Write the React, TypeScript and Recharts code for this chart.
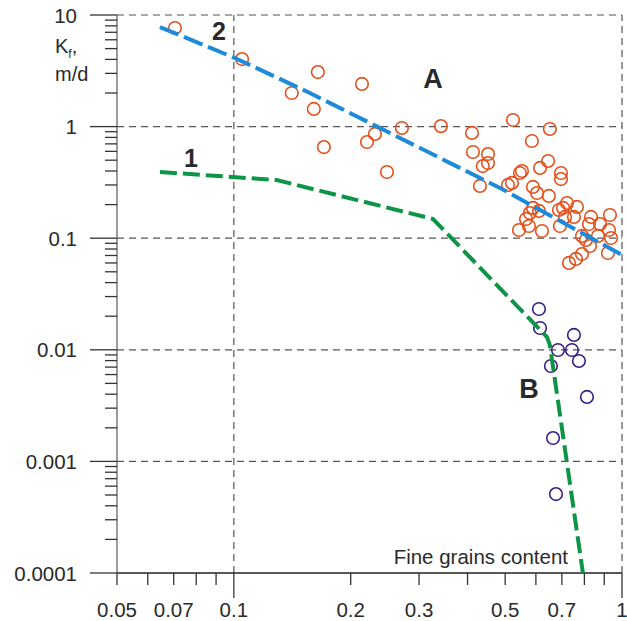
import React from 'react';
import { ScatterChart, Scatter, XAxis, YAxis, ReferenceLine } from 'recharts';

// Fine grains content (x) ticks
const xTicks = [0.05, 0.06, 0.07, 0.08, 0.09, 0.1, 0.2, 0.3, 0.4, 0.5, 0.6, 0.7, 0.8, 0.9, 1];
const xLabelled = [0.05, 0.07, 0.1, 0.2, 0.3, 0.5, 0.7, 1];
const xTickLabels = ['0.05', '0.07', '0.1', '0.2', '0.3', '0.5', '0.7', '1'];
const xMajor = [0.1, 1];

// Kf (y) ticks
const yTicks = [
  0.0001, 0.0002, 0.0003, 0.0004, 0.0005, 0.0006, 0.0007, 0.0008, 0.0009,
  0.001, 0.002, 0.003, 0.004, 0.005, 0.006, 0.007, 0.008, 0.009,
  0.01, 0.02, 0.03, 0.04, 0.05, 0.06, 0.07, 0.08, 0.09,
  0.1, 0.2, 0.3, 0.4, 0.5, 0.6, 0.7, 0.8, 0.9,
  1, 2, 3, 4, 5, 6, 7, 8, 9, 10,
];
const yMajor = [0.0001, 0.001, 0.01, 0.1, 1, 10];
const yTickLabels = ['0.0001', '0.001', '0.01', '0.1', '1', '10'];

// Group A samples (orange)
const groupA = [
  { f: 0.0705, k: 7.65 }, { f: 0.105, k: 4.03 }, { f: 0.1646, k: 3.08 }, { f: 0.2138, k: 2.41 },
  { f: 0.141, k: 2.0 }, { f: 0.1607, k: 1.44 }, { f: 0.1706, k: 0.656 }, { f: 0.2203, k: 0.728 },
  { f: 0.2309, k: 0.859 }, { f: 0.248, k: 0.392 }, { f: 0.271, k: 0.972 }, { f: 0.3415, k: 1.01 },
  { f: 0.4107, k: 0.877 }, { f: 0.413, k: 0.592 }, { f: 0.4516, k: 0.568 }, { f: 0.4516, k: 0.472 },
  { f: 0.438, k: 0.443 }, { f: 0.4305, k: 0.294 }, { f: 0.5237, k: 1.146 }, { f: 0.652, k: 0.952 },
  { f: 0.586, k: 0.743 }, { f: 0.645, k: 0.492 }, { f: 0.615, k: 0.426 }, { f: 0.6964, k: 0.384 },
  { f: 0.6964, k: 0.339 }, { f: 0.5524, k: 0.4 }, { f: 0.5458, k: 0.384 }, { f: 0.5206, k: 0.3126 },
  { f: 0.5084, k: 0.3 }, { f: 0.5897, k: 0.288 }, { f: 0.604, k: 0.254 }, { f: 0.648, k: 0.239 },
  { f: 0.5897, k: 0.1866 }, { f: 0.611, k: 0.1754 }, { f: 0.579, k: 0.168 }, { f: 0.566, k: 0.1486 },
  { f: 0.5758, k: 0.1286 }, { f: 0.5427, k: 0.1184 }, { f: 0.622, k: 0.116 }, { f: 0.688, k: 0.179 },
  { f: 0.705, k: 0.1866 }, { f: 0.7216, k: 0.2067 }, { f: 0.7656, k: 0.1905 }, { f: 0.713, k: 0.155 },
  { f: 0.752, k: 0.155 }, { f: 0.692, k: 0.1286 }, { f: 0.832, k: 0.155 }, { f: 0.822, k: 0.134 },
  { f: 0.8776, k: 0.134 }, { f: 0.931, k: 0.1614 }, { f: 0.926, k: 0.1184 }, { f: 0.7886, k: 0.1047 },
  { f: 0.8077, k: 0.0964 }, { f: 0.827, k: 0.0851 }, { f: 0.8672, k: 0.1047 }, { f: 0.937, k: 0.1004 },
  { f: 0.92, k: 0.0737 }, { f: 0.7886, k: 0.0722 }, { f: 0.761, k: 0.0652 }, { f: 0.7302, k: 0.06 },
];

// Group B samples (purple)
const groupB = [
  { f: 0.611, k: 0.0232 }, { f: 0.615, k: 0.01568 }, { f: 0.752, k: 0.01358 }, { f: 0.684, k: 0.00996 },
  { f: 0.743, k: 0.00996 }, { f: 0.7746, k: 0.00794 }, { f: 0.656, k: 0.00716 }, { f: 0.8124, k: 0.00378 },
  { f: 0.6643, k: 0.00162 }, { f: 0.676, k: 0.00051 },
];

// Curve 1 (green)
const curve1 = [
  { f: 0.0645, k: 0.392 }, { f: 0.129, k: 0.332 }, { f: 0.326, k: 0.1486 },
  { f: 0.641, k: 0.013 }, { f: 0.652, k: 0.011 }, { f: 0.793, k: 0.0001 },
];

// Curve 2 (blue)
const curve2 = [
  { f: 0.0645, k: 7.8 }, { f: 0.1006, k: 4.12 }, { f: 0.157, k: 2.0 },
  { f: 0.485, k: 0.282 }, { f: 1, k: 0.0707 },
];

const FONT = '"Liberation Sans", Arial, sans-serif';
const TXT = '#2a2a2a';
const ORANGE = '#e4501c';
const PURPLE = '#3a1f86';
const GREEN = '#0e9447';
const BLUE = '#1d8bd9';
const GRID = '#555';

const XTick = (props: any) => {
  const { x, y, payload } = props;
  const v = payload.value;
  const len = xMajor.includes(v) ? 25 : 12;
  const idx = xLabelled.indexOf(v);
  return (
    <g>
      <line x1={x} x2={x} y1={y} y2={y + len} stroke="#333" strokeWidth={1.3} />
      {idx >= 0 && (
        <text x={x} y={y + 44} textAnchor="middle" fontSize={20.5} fontFamily={FONT} fill={TXT}>
          {xTickLabels[idx]}
        </text>
      )}
    </g>
  );
};

const YTick = (props: any) => {
  const { x, y, payload } = props;
  const v = payload.value;
  const idx = yMajor.indexOf(v);
  const len = idx >= 0 ? 27 : 12;
  return (
    <g>
      <line x1={x - len} x2={x} y1={y} y2={y} stroke="#333" strokeWidth={1.3} />
      {idx >= 0 && (
        <text x={x - 40} y={y + 7.5} textAnchor="end" fontSize={20.5} fontFamily={FONT} fill={TXT}>
          {yTickLabels[idx]}
        </text>
      )}
    </g>
  );
};

const Ring = (color: string) => (props: any) => {
  const { cx, cy } = props;
  if (cx == null || cy == null) return <g />;
  return <circle cx={cx} cy={cy} r={6.3} fill="none" stroke={color} strokeWidth={1.6} />;
};

const NoShape = () => <g />;

export default function App() {
  return (
    <div style={{ position: 'absolute', left: 0, top: 0, width: 627, height: 621, background: '#fff' }}>
      <ScatterChart width={627} height={621} margin={{ top: 15, right: 5, bottom: 0, left: 0 }}>
        <XAxis
          type="number"
          dataKey="f"
          scale="log"
          domain={[0.05, 1]}
          ticks={xTicks}
          interval={0}
          allowDataOverflow
          height={48}
          tickSize={0}
          tickMargin={0}
          tickLine={false}
          tick={<XTick />}
          axisLine={{ stroke: '#222', strokeWidth: 1.3 }}
        />
        <YAxis
          type="number"
          dataKey="k"
          scale="log"
          domain={[0.0001, 10]}
          ticks={yTicks}
          interval={0}
          allowDataOverflow
          width={117}
          tickSize={0}
          tickMargin={0}
          tickLine={false}
          tick={<YTick />}
          axisLine={{ stroke: '#666', strokeWidth: 1.3 }}
        />
        {yMajor.slice(1).map((v) => (
          <ReferenceLine key={'h' + v} y={v} stroke={GRID} strokeWidth={1.2} strokeDasharray="7 5" />
        ))}
        {xMajor.map((v) => (
          <ReferenceLine key={'v' + v} x={v} stroke={GRID} strokeWidth={1.2} strokeDasharray="7 5" />
        ))}
        <Scatter data={groupA} shape={Ring(ORANGE)} isAnimationActive={false} />
        <Scatter data={groupB} shape={Ring(PURPLE)} isAnimationActive={false} />
        <Scatter
          data={curve1}
          shape={NoShape}
          line={{ stroke: GREEN, strokeWidth: 4, strokeDasharray: '17 6' }}
          isAnimationActive={false}
        />
        <Scatter
          data={curve2}
          shape={NoShape}
          line={{ stroke: BLUE, strokeWidth: 4, strokeDasharray: '20 6' }}
          isAnimationActive={false}
        />
      </ScatterChart>
      <svg
        width={627}
        height={621}
        style={{ position: 'absolute', left: 0, top: 0, pointerEvents: 'none' }}
      >
        <text x={55} y={53} fontSize={20} fontFamily={FONT} fill={TXT}>
          K<tspan dy={5} fontSize={12}>f</tspan><tspan dy={-5}>,</tspan>
        </text>
        <text x={55} y={81} fontSize={20} fontFamily={FONT} fill={TXT}>m/d</text>
        <text x={568} y={564} textAnchor="end" fontSize={20.5} fontFamily={FONT} fill={TXT}>
          Fine grains content
        </text>
        <text x={219} y={40} textAnchor="middle" fontSize={25} fontWeight="bold" fontFamily={FONT} fill={TXT}>2</text>
        <text x={191} y={167} textAnchor="middle" fontSize={25} fontWeight="bold" fontFamily={FONT} fill={TXT}>1</text>
        <text x={433} y={88} textAnchor="middle" fontSize={27} fontWeight="bold" fontFamily={FONT} fill={TXT}>A</text>
        <text x={529} y={398} textAnchor="middle" fontSize={27} fontWeight="bold" fontFamily={FONT} fill={TXT}>B</text>
      </svg>
    </div>
  );
}
